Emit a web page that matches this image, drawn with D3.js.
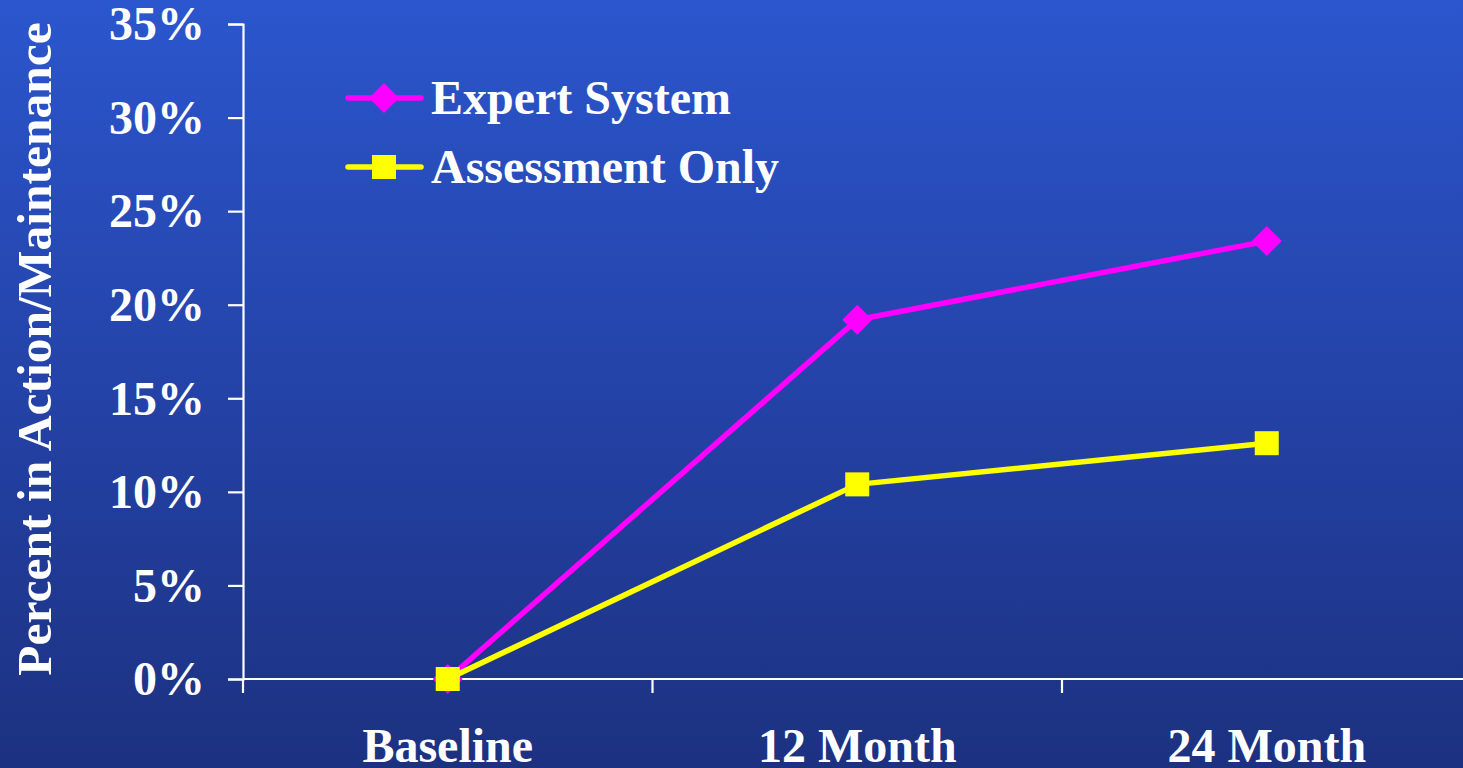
<!DOCTYPE html>
<html>
<head>
<meta charset="utf-8">
<script src="https://cdn.jsdelivr.net/npm/d3@7"></script>
<style>
  html, body { margin: 0; padding: 0; background: #2446b0; overflow: hidden; }
  svg { display: block; }
  text { font-family: "Liberation Serif", "Times New Roman", serif; font-weight: bold; fill: #ffffff; }
</style>
</head>
<body>
<svg id="chart" width="1463" height="768"></svg>
<script>
// Categories and series values (fraction of participants)
const categories = ["Baseline", "12 Month", "24 Month"];
const expertSystem = [0.0, 0.192, 0.234];
const assessmentOnly = [0.0, 0.104, 0.126];
const seriesNames = ["Expert System", "Assessment Only"];
const yTicks = [0, 0.05, 0.10, 0.15, 0.20, 0.25, 0.30, 0.35];

const W = 1463, H = 768;
const fontSize = 48;
const svg = d3.select("#chart");

// Vertical background gradient
const defs = svg.append("defs");
const grad = defs.append("linearGradient")
  .attr("id", "bg").attr("x1", 0).attr("y1", 0).attr("x2", 0).attr("y2", 1);
grad.append("stop").attr("offset", "0%").attr("stop-color", "#2b56cd");
grad.append("stop").attr("offset", "50%").attr("stop-color", "#2443a8");
grad.append("stop").attr("offset", "100%").attr("stop-color", "#1c3180");
svg.append("rect").attr("width", W).attr("height", H).attr("fill", "url(#bg)");

// Plot area
const plotLeft = 243, plotTop = 24, plotBottom = 679, bandW = 409.5;
const plotRight = plotLeft + bandW * categories.length;

const y = d3.scaleLinear().domain([0, 0.35]).range([plotBottom, plotTop]);
const xBand = d3.scaleBand().domain(categories).range([plotLeft, plotRight]).paddingInner(0).paddingOuter(0);
const xPt = d3.scalePoint().domain(categories).range([plotLeft, plotRight]).padding(0.5);

const axisColor = "#ffffff";

// Y axis
const yAxis = svg.append("g").attr("transform", `translate(${plotLeft},0)`)
  .call(d3.axisLeft(y).tickValues(yTicks).tickSize(15).tickPadding(23)
    .tickFormat(d3.format(".0%")));
yAxis.select(".domain").attr("stroke", axisColor).attr("stroke-width", 2.2);
yAxis.selectAll(".tick line").attr("stroke", axisColor).attr("stroke-width", 2.2);
yAxis.selectAll(".tick text")
  .attr("fill", "#fff").attr("font-size", fontSize).attr("dy", "0.33em")
  .style("font-family", '"Liberation Serif", "Times New Roman", serif').style("font-weight", "bold");

// X axis: ticks on band boundaries, labels at band centres
const xAxis = svg.append("g").attr("transform", `translate(0,${plotBottom})`);
xAxis.append("line").attr("x1", plotLeft).attr("x2", plotRight).attr("stroke", axisColor).attr("stroke-width", 2.2);
const boundaries = categories.map(c => xBand(c)).concat([plotRight]);
xAxis.selectAll("line.tk").data(boundaries).enter().append("line")
  .attr("class", "tk").attr("x1", d => d).attr("x2", d => d)
  .attr("y1", 0).attr("y2", 14).attr("stroke", axisColor).attr("stroke-width", 2.2);
xAxis.selectAll("text.cat").data(categories).enter().append("text")
  .attr("class", "cat").attr("x", d => xPt(d)).attr("y", 83)
  .attr("text-anchor", "middle").attr("font-size", fontSize).text(d => d);

// Y axis title
svg.append("text")
  .attr("transform", "translate(51,349) rotate(-90)")
  .attr("text-anchor", "middle").attr("font-size", 49.5)
  .text("Percent in Action/Maintenance");

// Series
const series = [
  { name: seriesNames[0], values: expertSystem, color: "#ff00ff", marker: "diamond" },
  { name: seriesNames[1], values: assessmentOnly, color: "#ffff00", marker: "square" }
];

const line = d3.line().x((d, i) => xPt(categories[i])).y(d => y(d));

function drawMarker(g, cx, cy, s) {
  if (s.marker === "diamond") {
    const r = 15;
    g.append("path")
      .attr("d", `M${cx},${cy - r}L${cx + r},${cy}L${cx},${cy + r}L${cx - r},${cy}Z`)
      .attr("fill", s.color);
  } else {
    const h = 12;
    g.append("rect").attr("x", cx - h).attr("y", cy - h)
      .attr("width", 2 * h).attr("height", 2 * h).attr("fill", s.color);
  }
}

series.forEach(s => {
  const g = svg.append("g");
  g.append("path").datum(s.values).attr("d", line)
    .attr("fill", "none").attr("stroke", s.color).attr("stroke-width", 5.5)
    .attr("stroke-linejoin", "round");
  s.values.forEach((v, i) => drawMarker(g, xPt(categories[i]), y(v), s));
});

// Legend
const legendRows = [98, 167];
series.forEach((s, i) => {
  const g = svg.append("g");
  const ly = legendRows[i];
  g.append("line").attr("x1", 348).attr("x2", 421).attr("y1", ly).attr("y2", ly)
    .attr("stroke", s.color).attr("stroke-width", 5.5).attr("stroke-linecap", "round");
  drawMarker(g, 384, ly, s);
  g.append("text").attr("x", 431).attr("y", ly + 16).attr("font-size", fontSize).text(s.name);
});
</script>
</body>
</html>
